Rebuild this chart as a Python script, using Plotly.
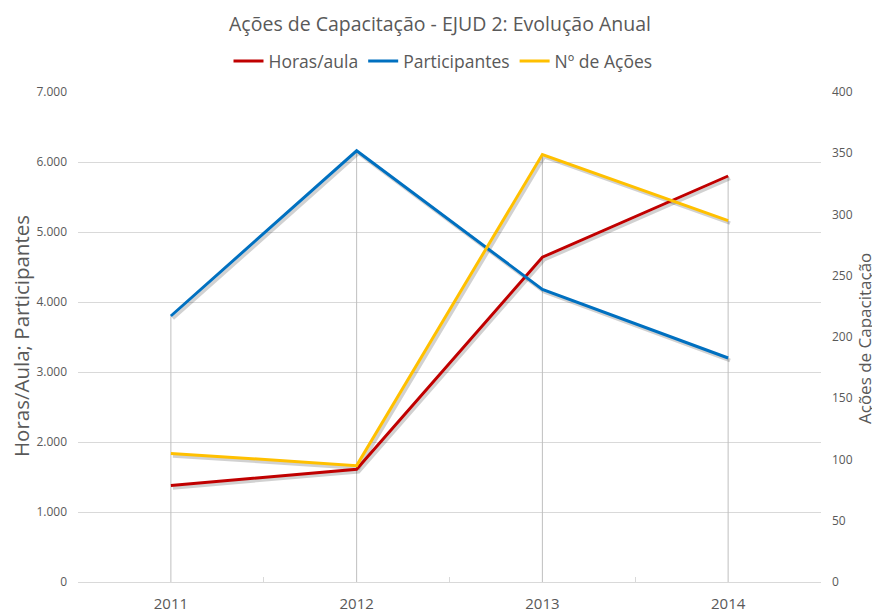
import plotly.graph_objects as go

years = ["2011", "2012", "2013", "2014"]
horas_aula = [1380, 1610, 4640, 5800]
participantes = [3800, 6160, 4180, 3200]
n_acoes = [105, 95, 349, 295]

left_ticks = [0, 1000, 2000, 3000, 4000, 5000, 6000, 7000]
right_ticks = [0, 50, 100, 150, 200, 250, 300, 350, 400]

LEFT_MAX = 7000
RIGHT_MAX = 400

RED = "#C00000"
BLUE = "#0070C0"
YELLOW = "#FFC000"
GREY_TXT = "#595959"
FONT = "Open Sans"

# page body adds an 8px offset; figure is sized so the page matches 880x612
OFF = 8
W, H = 880 - OFF, 612 - OFF
ML, MT = 78 - OFF, 92 - OFF
MR, MB = W - (821 - OFF), H - (582 - OFF)
PW, PH = W - ML - MR, H - MT - MB
SH_X, SH_Y = 2.0, 2.5
dx = SH_X * 4 / PW
dy_left = SH_Y * LEFT_MAX / PH
dy_right = SH_Y * RIGHT_MAX / PH


def px_x(x):
    return (x - 78) / PW


def px_y(y):
    return (582 - y) / PH


# drop line height at each category = highest point among series (in left-axis units)
drop_top = [max(h, p, a * LEFT_MAX / RIGHT_MAX) for h, p, a in zip(horas_aula, participantes, n_acoes)]

fig = go.Figure()

for yr, top in zip(years, drop_top):
    fig.add_trace(go.Scatter(x=[yr, yr], y=[0, top], mode="lines",
                             line=dict(color="#BFBFBF", width=1),
                             showlegend=False, hoverinfo="skip", xaxis="x", yaxis="y"))

fig.add_trace(go.Scatter(x=[years[0]], y=[0], xaxis="x", yaxis="y2", mode="markers",
                         marker=dict(opacity=0), showlegend=False, hoverinfo="skip"))

shadow = dict(color="rgba(0,0,0,0.18)", width=3.5)
fig.add_trace(go.Scatter(x=years, y=horas_aula, mode="lines", line=shadow,
                         showlegend=False, hoverinfo="skip", xaxis="x2", yaxis="y3"))
fig.add_trace(go.Scatter(x=years, y=participantes, mode="lines", line=shadow,
                         showlegend=False, hoverinfo="skip", xaxis="x2", yaxis="y3"))
fig.add_trace(go.Scatter(x=years, y=n_acoes, mode="lines", line=shadow,
                         showlegend=False, hoverinfo="skip", xaxis="x2", yaxis="y4"))

fig.add_trace(go.Scatter(x=years, y=horas_aula, mode="lines", name="Horas/aula",
                         line=dict(color=RED, width=3), xaxis="x3", yaxis="y5"))
fig.add_trace(go.Scatter(x=years, y=participantes, mode="lines", name="Participantes",
                         line=dict(color=BLUE, width=3), xaxis="x3", yaxis="y5"))
fig.add_trace(go.Scatter(x=years, y=n_acoes, mode="lines", name="Nº de Ações",
                         line=dict(color=YELLOW, width=3), xaxis="x3", yaxis="y6"))

hidden = dict(visible=False, showgrid=False, zeroline=False, fixedrange=True, automargin=False)

fig.update_layout(
    width=W, height=H,
    margin=dict(l=ML, r=MR, t=MT, b=MB, autoexpand=False),
    paper_bgcolor="white", plot_bgcolor="white",
    separators=",.",
    font=dict(family=FONT, color=GREY_TXT),
    title=dict(text="Ações de Capacitação - EJUD 2: Evolução Anual",
               x=(440 - OFF) / W, xref="container", xanchor="center",
               y=1 - (24 - OFF) / H, yref="container", yanchor="middle",
               font=dict(size=19.5, color=GREY_TXT, family=FONT)),
    legend=dict(orientation="h", x=px_x(443), xref="paper", xanchor="center",
                y=px_y(61), yanchor="middle",
                font=dict(size=17.5, color=GREY_TXT), traceorder="normal",
                itemwidth=30, bgcolor="rgba(0,0,0,0)"),
    xaxis=dict(type="category", categoryorder="array", categoryarray=years,
               range=[-0.5, 3.5], showgrid=False, zeroline=False, automargin=False,
               showline=True, linecolor="#D9D9D9", linewidth=1,
               ticks="inside", tickson="boundaries", ticklen=5, tickcolor="#D9D9D9",
               tickfont=dict(size=15, color=GREY_TXT), ticklabelstandoff=8),
    yaxis=dict(range=[0, LEFT_MAX], tickvals=left_ticks, tickformat=",d", automargin=False,
               showgrid=True, gridcolor="#D9D9D9", gridwidth=1, zeroline=False,
               showline=False, tickfont=dict(size=12, color=GREY_TXT),
               ticklabelstandoff=10),
    yaxis2=dict(range=[0, RIGHT_MAX], tickvals=right_ticks, overlaying="y", side="right",
                showgrid=False, zeroline=False, showline=False, automargin=False,
                tickfont=dict(size=12, color=GREY_TXT), ticklabelstandoff=10),
    xaxis2=dict(type="category", categoryorder="array", categoryarray=years,
                range=[-0.5 - dx, 3.5 - dx], overlaying="x", **hidden),
    yaxis3=dict(range=[dy_left, LEFT_MAX + dy_left], overlaying="y", **hidden),
    yaxis4=dict(range=[dy_right, RIGHT_MAX + dy_right], overlaying="y", **hidden),
    xaxis3=dict(type="category", categoryorder="array", categoryarray=years,
                range=[-0.5, 3.5], overlaying="x", **hidden),
    yaxis5=dict(range=[0, LEFT_MAX], overlaying="y", **hidden),
    yaxis6=dict(range=[0, RIGHT_MAX], overlaying="y", **hidden),
    annotations=[
        dict(text="Horas/Aula; Participantes", textangle=-90,
             x=px_x(21), xref="paper", y=px_y(336), yref="paper",
             xanchor="center", yanchor="middle",
             showarrow=False, font=dict(size=20.5, color=GREY_TXT)),
        dict(text="Ações de Capacitação", textangle=-90,
             x=px_x(864), xref="paper", y=px_y(339), yref="paper",
             xanchor="center", yanchor="middle",
             showarrow=False, font=dict(size=17, color=GREY_TXT)),
    ],
)

fig.write_html("out.html")
